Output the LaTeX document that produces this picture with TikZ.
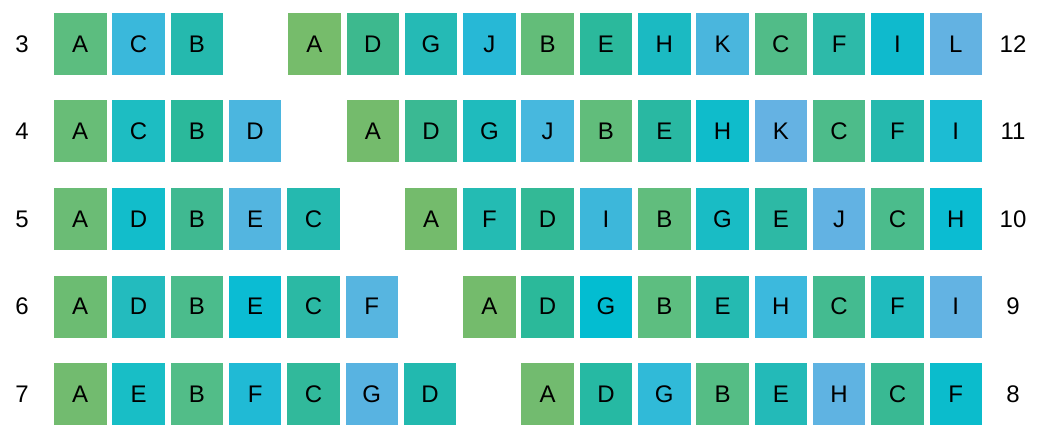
\documentclass[tikz,border=0pt]{standalone}
\usepackage{fontspec}
\setmainfont{Liberation Sans}
\newcommand\lcell[4]{% row, index, hex, letter
  \definecolor{cellc}{HTML}{#3}%
  \node[cellbox, fill=cellc] (L#1-#2) at ({54+26.25+#2*58.3}, {-(44+#1*87.5)}) {#4};}
\newcommand\rcell[5]{% row, count, index, hex, letter
  \definecolor{cellc}{HTML}{#4}%
  \node[cellbox, fill=cellc] (R#1-#3) at ({982-26.25-(#2-1-#3)*58.3}, {-(44+#1*87.5)}) {#5};}
\newcommand\rowlabels[3]{% row, left, right
  \node[numlabel] (NL#1) at (22, {-(44+#1*87.5)}) {#2};
  \node[numlabel] (NR#1) at (1013, {-(44+#1*87.5)}) {#3};}
\begin{document}
\begin{tikzpicture}[x=1pt,y=1pt,
  cellbox/.style={minimum width=52.5pt, minimum height=62pt, inner sep=0pt, draw=none, font=\fontsize{24}{27}\selectfont, text=black},
  numlabel/.style={inner sep=0pt, font=\fontsize{24}{27}\selectfont, text=black}]
\fill[white] (0,0) rectangle (1043,-430);
\useasboundingbox (0,0) rectangle (1043,-430);
% row 0
\rowlabels{0}{3}{12}
\lcell{0}{0}{5CBD7F}{A}
\lcell{0}{1}{3AB8DB}{C}
\lcell{0}{2}{25B9AE}{B}
\rcell{0}{12}{0}{76BC6B}{A}
\rcell{0}{12}{1}{3DB98E}{D}
\rcell{0}{12}{2}{25BAB5}{G}
\rcell{0}{12}{3}{27B8D6}{J}
\rcell{0}{12}{4}{63BD79}{B}
\rcell{0}{12}{5}{2BB99C}{E}
\rcell{0}{12}{6}{1BBAC2}{H}
\rcell{0}{12}{7}{4AB6DD}{K}
\rcell{0}{12}{8}{51BC88}{C}
\rcell{0}{12}{9}{2DBAA9}{F}
\rcell{0}{12}{10}{0FBACD}{I}
\rcell{0}{12}{11}{63B2E2}{L}
% row 1
\rowlabels{1}{4}{11}
\lcell{1}{0}{68BD77}{A}
\lcell{1}{1}{1DBDC2}{C}
\lcell{1}{2}{2BB99B}{B}
\lcell{1}{3}{4BB6DF}{D}
\rcell{1}{11}{0}{74BB6C}{A}
\rcell{1}{11}{1}{3AB993}{D}
\rcell{1}{11}{2}{1FBBBD}{G}
\rcell{1}{11}{3}{47B8DE}{J}
\rcell{1}{11}{4}{61BD7B}{B}
\rcell{1}{11}{5}{29B8A2}{E}
\rcell{1}{11}{6}{0FBCCB}{H}
\rcell{1}{11}{7}{65B2E3}{K}
\rcell{1}{11}{8}{4DBC8A}{C}
\rcell{1}{11}{9}{25B9AE}{F}
\rcell{1}{11}{10}{1CBCD3}{I}
% row 2
\rowlabels{2}{5}{10}
\lcell{2}{0}{6BBC75}{A}
\lcell{2}{1}{12BDCB}{D}
\lcell{2}{2}{40B991}{B}
\lcell{2}{3}{53B5E0}{E}
\lcell{2}{4}{25B9AF}{C}
\rcell{2}{10}{0}{74BB6C}{A}
\rcell{2}{10}{1}{24BBB3}{F}
\rcell{2}{10}{2}{33B996}{D}
\rcell{2}{10}{3}{3DB7DA}{I}
\rcell{2}{10}{4}{61BD7D}{B}
\rcell{2}{10}{5}{19BCC5}{G}
\rcell{2}{10}{6}{2DB9A5}{E}
\rcell{2}{10}{7}{62B2E3}{J}
\rcell{2}{10}{8}{4BBC8C}{C}
\rcell{2}{10}{9}{0BBCD2}{H}
% row 3
\rowlabels{3}{6}{9}
\lcell{3}{0}{6CBC72}{A}
\lcell{3}{1}{23BBBE}{D}
\lcell{3}{2}{4BBC8C}{B}
\lcell{3}{3}{0BBCD3}{E}
\lcell{3}{4}{2BB9A4}{C}
\lcell{3}{5}{57B5E0}{F}
\rcell{3}{9}{0}{74BB6C}{A}
\rcell{3}{9}{1}{2BB99A}{D}
\rcell{3}{9}{2}{03BDD1}{G}
\rcell{3}{9}{3}{5DBE80}{B}
\rcell{3}{9}{4}{25BAB1}{E}
\rcell{3}{9}{5}{3CB9DD}{H}
\rcell{3}{9}{6}{44BB90}{C}
\rcell{3}{9}{7}{1FBBBE}{F}
\rcell{3}{9}{8}{63B3E3}{I}
% row 4
\rowlabels{4}{7}{8}
\lcell{4}{0}{72BB6F}{A}
\lcell{4}{1}{18BEC6}{E}
\lcell{4}{2}{52BD88}{B}
\lcell{4}{3}{20BAD5}{F}
\lcell{4}{4}{31B99B}{C}
\lcell{4}{5}{58B3E1}{G}
\lcell{4}{6}{22B9AF}{D}
\rcell{4}{8}{0}{72BB6F}{A}
\rcell{4}{8}{1}{26B9A3}{D}
\rcell{4}{8}{2}{30BAD8}{G}
\rcell{4}{8}{3}{55BD85}{B}
\rcell{4}{8}{4}{23BAB8}{E}
\rcell{4}{8}{5}{5FB3E2}{H}
\rcell{4}{8}{6}{39B993}{C}
\rcell{4}{8}{7}{0BBCCC}{F}
\end{tikzpicture}
\end{document}
